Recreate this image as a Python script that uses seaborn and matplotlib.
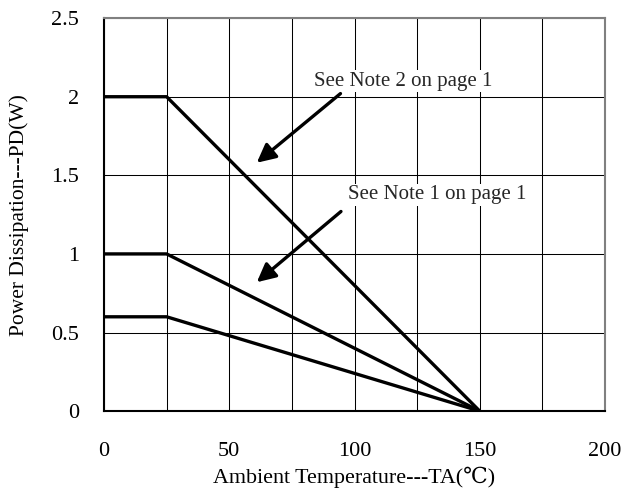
import matplotlib
matplotlib.use("Agg")
import matplotlib.pyplot as plt
import seaborn as sns
import pandas as pd

temps = [0, 25, 150]
pd_note2 = [2.0, 2.0, 0.0]
pd_note1 = [1.0, 1.0, 0.0]
pd_base = [0.6, 0.6, 0.0]
x_ticks = [0, 50, 100, 150, 200]
y_ticks = [0, 0.5, 1, 1.5, 2, 2.5]
x_grid = [0, 25, 50, 75, 100, 125, 150, 175, 200]
note2_text = "See Note 2 on page 1"
note1_text = "See Note 1 on page 1"

sns.set_theme(style="white")
plt.rcParams['font.family'] = ['Liberation Serif', 'DejaVu Serif']

df = pd.concat([
    pd.DataFrame({"T": temps, "P": pd_note2, "s": "note2"}),
    pd.DataFrame({"T": temps, "P": pd_note1, "s": "note1"}),
    pd.DataFrame({"T": temps, "P": pd_base, "s": "base"}),
])

fig = plt.figure(figsize=(6.25, 4.9), dpi=100)
ax = fig.add_axes([0.1664, 0.161, 0.8016, 0.802])

ax.set_xlim(0, 200)
ax.set_ylim(0, 2.5)
ax.set_xticks(x_grid, minor=True)
ax.set_xticks(x_ticks)
ax.set_yticks(y_ticks)
ax.set_yticklabels([f"{v:g}" for v in y_ticks])
ax.grid(True, which="both", axis="x", color="black", lw=0.75)
ax.grid(True, which="major", axis="y", color="black", lw=0.75)
ax.set_axisbelow(True)

sns.lineplot(data=df, x="T", y="P", hue="s", units="s", estimator=None,
             palette={"note2": "black", "note1": "black", "base": "black"},
             lw=2.4, legend=False, ax=ax, zorder=3)

ax.tick_params(axis="both", which="both", length=0, labelsize=16, colors="black")
ax.tick_params(axis="x", pad=22)
ax.tick_params(axis="y", pad=18)

for side in ["top", "right"]:
    ax.spines[side].set_color("#808080")
    ax.spines[side].set_linewidth(1.5)
for side in ["left", "bottom"]:
    ax.spines[side].set_color("black")
    ax.spines[side].set_linewidth(1.5)

ax.set_xlabel("Ambient Temperature---TA(℃)", fontsize=15.8, labelpad=4, color="black")
ax.set_ylabel("Power Dissipation---PD(W)", fontsize=15.5, labelpad=16, color="black")

bbox = dict(facecolor="white", edgecolor="none", pad=1)
ax.text(119.4, 2.10, note2_text, ha="center", va="center", fontsize=15, bbox=bbox, zorder=4)
ax.text(133, 1.376, note1_text, ha="center", va="center", fontsize=15, bbox=bbox, zorder=4)

arrow = dict(arrowstyle="-|>", color="black", lw=2.4, mutation_scale=28, shrinkA=0, shrinkB=0)
ax.annotate("", xy=(61, 1.58), xytext=(94.4, 2.02), arrowprops=arrow, zorder=5)
ax.annotate("", xy=(61, 0.82), xytext=(94.6, 1.27), arrowprops=arrow, zorder=5)

fig.savefig("out.png", dpi=100)
